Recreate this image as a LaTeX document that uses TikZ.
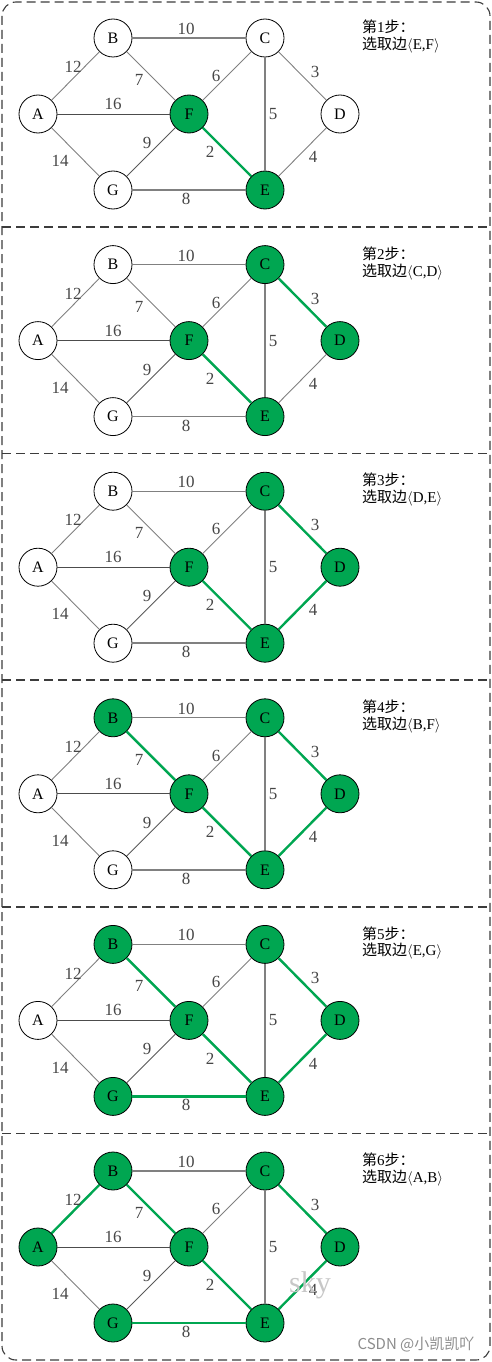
\documentclass[tikz,border=0pt]{standalone}
\usepackage{fontspec}
\setmainfont{Liberation Serif}
\newfontfamily\cjk{Noto Sans CJK SC}
\definecolor{kgreen}{RGB}{0,166,81}
\definecolor{egray}{RGB}{128,128,128}
\definecolor{lgray}{RGB}{70,70,70}
\definecolor{bordergray}{RGB}{60,60,60}
\tikzset{
  wn/.style={circle,draw=black,line width=0.8pt,fill=white,minimum size=38pt,inner sep=0pt,font=\fontsize{16}{16}\selectfont},
  gn/.style={wn,fill=kgreen},
  pe/.style={draw=egray,line width=0.9pt},
  ge/.style={draw=kgreen,line width=2.4pt},
  lbl/.style={text=lgray,inner sep=0pt,font=\fontsize{17}{17}\selectfont},
  dsh/.style={dash pattern=on 9pt off 5pt,line width=1.1pt,draw=bordergray},
  captxt/.style={anchor=west,inner sep=0pt,font=\fontsize{15}{15}\selectfont}
}
\begin{document}
\begin{tikzpicture}[x=1pt,y=-1pt]
\useasboundingbox (0,0) rectangle (492,1362);
\draw[dsh,rounded corners=14pt] (2,2) rectangle (490,1360);
\foreach \yy [count=\i] in {227,453.5,680,907,1133.5}
  \draw[dsh] (2,\yy) coordinate (dl\i) -- (490,\yy) coordinate (dr\i);
\foreach \k/\sel in {1/{E,F},2/{C,D},3/{D,E},4/{B,F},5/{E,G},6/{A,B}} {
  \pgfmathsetmacro\dy{226.6*(\k-1)}
  \ifnum\k<2 \tikzset{nC/.style={wn},eCD/.style={pe}}\else\tikzset{nC/.style={gn},eCD/.style={ge}}\fi
  \ifnum\k<3 \tikzset{eDE/.style={pe}}\else\tikzset{eDE/.style={ge}}\fi
  \ifnum\k<4 \tikzset{nB/.style={wn},eBF/.style={pe}}\else\tikzset{nB/.style={gn},eBF/.style={ge}}\fi
  \ifnum\k<5 \tikzset{nG/.style={wn},eGE/.style={pe,line width=1.5pt}}\else\tikzset{nG/.style={gn},eGE/.style={ge}}\fi
  \ifnum\k<6 \tikzset{nA/.style={wn},eAB/.style={pe}}\else\tikzset{nA/.style={gn},eAB/.style={ge}}\fi
  \begin{scope}[yshift=-\dy pt]
    \node[nB] (B\k) at (113,38) {B};
    \node[nC] (C\k) at (265,38) {C};
    \node[nA] (A\k) at (38,114) {A};
    \node[gn] (F\k) at (189,114) {F};
    \node[nC] (D\k) at (340,114) {D};
    \node[nG] (G\k) at (113,190) {G};
    \node[gn] (E\k) at (265,190) {E};
    \draw[pe,line width=1.2pt] (B\k) -- (C\k);
    \draw[eAB] (A\k) -- (B\k);
    \draw[eBF] (B\k) -- (F\k);
    \draw[pe] (C\k) -- (F\k);
    \draw[eCD] (C\k) -- (D\k);
    \draw[pe,draw=black!70] (A\k) -- (F\k);
    \draw[pe,line width=1.5pt] (C\k) -- (E\k);
    \draw[pe] (A\k) -- (G\k);
    \draw[pe,draw=black!65] (G\k) -- (F\k);
    \draw[ge] (F\k) -- (E\k);
    \draw[eDE] (E\k) -- (D\k);
    \draw[eGE] (G\k) -- (E\k);
    \node[lbl] (l10\k) at (186,29) {10};
    \node[lbl] (l12\k) at (73,67) {12};
    \node[lbl] (l7\k) at (139,80) {7};
    \node[lbl] (l6\k) at (216,76) {6};
    \node[lbl] (l3\k) at (315,72) {3};
    \node[lbl] (l16\k) at (113,104) {16};
    \node[lbl] (l5\k) at (273,114) {5};
    \node[lbl] (l9\k) at (147,143) {9};
    \node[lbl] (l2\k) at (210,152) {2};
    \node[lbl] (l14\k) at (60,161) {14};
    \node[lbl] (l4\k) at (313,157) {4};
    \node[lbl] (l8\k) at (186,199) {8};
    \node[captxt] (s\k) at (362,27) {\cjk 第{\rmfamily\k}步：};
    \node[captxt] (t\k) at (362,45) {\cjk 选取边{\rmfamily$\langle$\sel$\rangle$}};
  \end{scope}
}
\node[text=black!22,inner sep=0pt,font=\fontsize{30}{30}\selectfont] (wm1) at (310,1285) {sky};
\node[text=black!45,inner sep=0pt,font=\cjk\fontsize{15}{15}\selectfont] (wm2) at (416,1345) {CSDN @小凯凯吖};
\end{tikzpicture}
\end{document}
